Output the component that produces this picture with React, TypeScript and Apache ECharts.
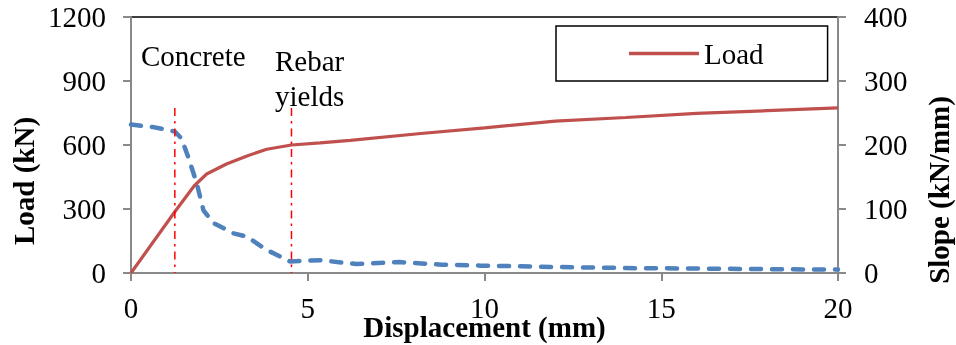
import React, { useEffect, useRef } from "react";
import * as echarts from "echarts";

// Load vs displacement (left axis, kN)
const loadX = [0, 1.24, 1.79, 2.14, 2.7, 3.3, 3.84, 4.54, 5.35, 6.2, 8.2, 10, 12, 14, 16, 18, 20];
const loadY = [0, 287, 409, 464, 511, 550, 580, 600, 610, 622, 654, 680, 712, 729, 748, 761, 774];

// Slope vs displacement (right axis, kN/mm)
const slopeX = [0, 0.63, 1.24, 1.43, 1.62, 1.86, 2.05, 2.33, 2.9, 3.27, 3.84, 4.5, 5.35, 6.38, 7.6, 8.8, 9.9, 11, 12, 14.4, 16, 18, 20];
const slopeY = [232, 228, 221, 210, 181, 140, 98, 78, 62, 57, 36, 18, 20, 14, 17, 13, 11.5, 10.5, 9.4, 7.5, 7, 6, 5.3];

// Vertical event markers (displacement, mm) and their top (kN)
const markerNames = ["Concrete", "Rebar yields"];
const markerX = [1.24, 4.54];
const markerTop = 773;

const FONT = "'Liberation Serif', 'Times New Roman', serif";
const AXIS_GREY = "#898989";

export default function App() {
  const ref = useRef<HTMLDivElement>(null);
  useEffect(() => {
    const chart = echarts.init(ref.current!, null, { renderer: "svg" });
    const axisCommon = {
      axisLine: { show: true, lineStyle: { color: AXIS_GREY, width: 2 } },
      axisTick: { show: true, length: 8, lineStyle: { color: AXIS_GREY, width: 2 } },
      splitLine: { show: false },
    };
    const plain = (v: number) => String(v);
    const option: any = {
      animation: false,
      textStyle: { fontFamily: FONT },
      grid: {
        left: 131,
        right: 118,
        top: 17,
        bottom: 72,
        show: true,
        borderColor: "#000",
        borderWidth: 1.5,
        containLabel: false,
        outerBoundsMode: "none",
      },
      legend: {
        data: ["Load"],
        left: 556,
        top: 26,
        orient: "horizontal",
        padding: [13, 64, 13, 73],
        icon: "rect",
        itemWidth: 70,
        itemHeight: 3.5,
        borderColor: "#000",
        borderWidth: 1.5,
        textStyle: { fontFamily: FONT, fontSize: 29, color: "#000" },
      },
      xAxis: {
        type: "value",
        min: 0,
        max: 20,
        interval: 5,
        ...axisCommon,
        axisLabel: { fontFamily: FONT, fontSize: 29, color: "#000", margin: 20, formatter: plain },
      },
      yAxis: [
        {
          type: "value",
          min: 0,
          max: 1200,
          interval: 300,
          position: "left",
          ...axisCommon,
          axisLabel: { fontFamily: FONT, fontSize: 29, color: "#000", margin: 25, formatter: plain },
        },
        {
          type: "value",
          min: 0,
          max: 400,
          interval: 100,
          position: "right",
          ...axisCommon,
          axisLabel: { fontFamily: FONT, fontSize: 29, color: "#000", margin: 26, formatter: plain },
        },
      ],
      series: [
        {
          name: "Slope",
          type: "line",
          yAxisIndex: 1,
          symbol: "none",
          data: slopeX.map((x, i) => [x, slopeY[i]]),
          lineStyle: { color: "#4F81BD", width: 4.5, type: [10, 11], cap: "round" },
          itemStyle: { color: "#4F81BD" },
          z: 2,
        },
        {
          name: "Load",
          type: "line",
          yAxisIndex: 0,
          symbol: "none",
          data: loadX.map((x, i) => [x, loadY[i]]),
          lineStyle: { color: "#C0504D", width: 3.2 },
          itemStyle: { color: "#C0504D" },
          z: 3,
        },
        ...markerX.map((x, i) => ({
          name: markerNames[i],
          type: "line",
          yAxisIndex: 0,
          symbol: "none",
          data: [
            [x, markerTop],
            [x, 0],
          ],
          lineStyle: { color: "#FF0000", width: 1.5, type: [8, 5, 2.5, 5] },
          z: 4,
        })),
      ],
      graphic: [
        {
          type: "text",
          x: 24,
          y: 181,
          rotation: Math.PI / 2,
          style: {
            text: "Load (kN)",
            font: `bold 29px ${FONT}`,
            fill: "#000",
            textAlign: "center",
            textVerticalAlign: "middle",
          },
        },
        {
          type: "text",
          x: 939,
          y: 190,
          rotation: Math.PI / 2,
          style: {
            text: "Slope (kN/mm)",
            font: `bold 29px ${FONT}`,
            fill: "#000",
            textAlign: "center",
            textVerticalAlign: "middle",
          },
        },
        {
          type: "text",
          x: 484.5,
          y: 327,
          style: {
            text: "Displacement (mm)",
            font: `bold 29px ${FONT}`,
            fill: "#000",
            textAlign: "center",
            textVerticalAlign: "middle",
          },
        },
        {
          type: "text",
          x: 141,
          y: 56,
          style: {
            text: "Concrete",
            font: `29px ${FONT}`,
            fill: "#000",
            textAlign: "left",
            textVerticalAlign: "middle",
          },
        },
        {
          type: "text",
          x: 275,
          y: 61,
          style: {
            text: "Rebar",
            font: `29px ${FONT}`,
            fill: "#000",
            textAlign: "left",
            textVerticalAlign: "middle",
          },
        },
        {
          type: "text",
          x: 275,
          y: 96,
          style: {
            text: "yields",
            font: `29px ${FONT}`,
            fill: "#000",
            textAlign: "left",
            textVerticalAlign: "middle",
          },
        },
      ],
    };
    chart.setOption(option);
    return () => chart.dispose();
  }, []);
  return (
    <div
      ref={ref}
      style={{ position: "fixed", left: 0, top: 0, width: 956, height: 345 }}
    />
  );
}
